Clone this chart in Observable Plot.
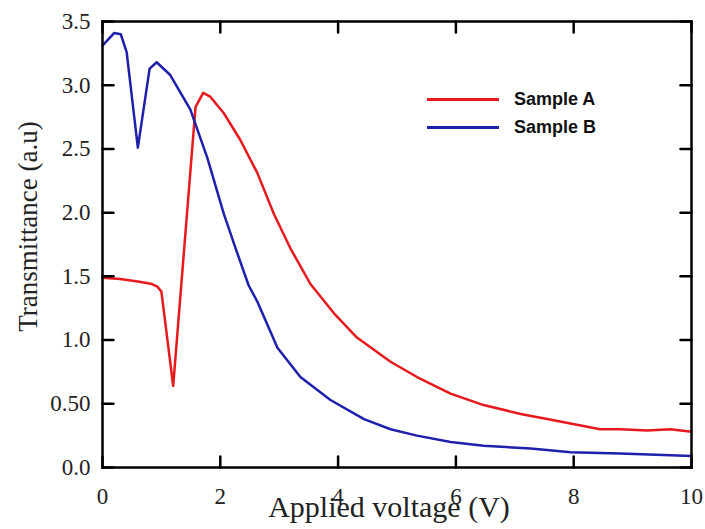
<!DOCTYPE html>
<html>
<head>
<meta charset="utf-8">
<script src="https://cdn.jsdelivr.net/npm/d3@7"></script>
<script src="https://cdn.jsdelivr.net/npm/@observablehq/plot@0.6"></script>
<style>
  html, body { margin: 0; padding: 0; background: #fff; }
  #wrap { position: relative; width: 705px; height: 529px; }
  .leg { position: absolute; left: 427px; font-family: "Liberation Sans", Arial, sans-serif; font-weight: bold; font-size: 18px; color: #111; display: flex; align-items: center; }
  .leg span.sw { display: inline-block; width: 72px; height: 3px; margin-right: 15px; }
</style>
</head>
<body>
<div id="wrap"></div>
<script>
// ---- data ----
const seriesNames = ["Sample A", "Sample B"];
const seriesColors = ["#e8191c", "#1f1fae"];

const sampleAx = [0, 0.3, 0.6, 0.84, 0.93, 1.0, 1.2, 1.58, 1.71, 1.83, 2.06, 2.34, 2.63, 2.91, 3.19, 3.53, 3.93, 4.32, 4.89, 5.34, 5.91, 6.47, 7.10, 7.66, 8.12, 8.45, 8.79, 9.25, 9.64, 10.0];
const sampleAy = [1.49, 1.48, 1.46, 1.44, 1.42, 1.38, 0.64, 2.83, 2.94, 2.91, 2.78, 2.57, 2.31, 1.99, 1.72, 1.44, 1.21, 1.02, 0.83, 0.71, 0.58, 0.49, 0.42, 0.37, 0.33, 0.30, 0.30, 0.29, 0.30, 0.28];

const sampleBx = [0, 0.2, 0.31, 0.41, 0.6, 0.80, 0.92, 1.15, 1.49, 1.78, 2.06, 2.26, 2.48, 2.63, 2.97, 3.36, 3.87, 4.44, 4.89, 5.34, 5.91, 6.47, 7.27, 7.95, 8.79, 10.0];
const sampleBy = [3.31, 3.41, 3.40, 3.26, 2.51, 3.13, 3.18, 3.08, 2.81, 2.43, 1.99, 1.72, 1.43, 1.30, 0.94, 0.71, 0.53, 0.38, 0.30, 0.25, 0.20, 0.17, 0.15, 0.12, 0.11, 0.09];

const xTicks = [0, 2, 4, 6, 8, 10];
const yTicks = [0, 0.5, 1.0, 1.5, 2.0, 2.5, 3.0, 3.5];
const yTickLabels = ["0.0", "0.50", "1.0", "1.5", "2.0", "2.5", "3.0", "3.5"];

const xTitle = "Applied voltage (V)";
const yTitle = "Transmittance (a.u)";

// ---- layout ----
const W = 705, H = 529, mL = 102, mR = 14, mT = 21, mB = 62;
const tickLen = 11;

// ---- build ----
const dataA = sampleAx.map((x, i) => ({x, y: sampleAy[i]}));
const dataB = sampleBx.map((x, i) => ({x, y: sampleBy[i]}));
const yFmt = d => yTickLabels[yTicks.indexOf(d)] ?? String(d);
// a plain line segment as vector shape (rendered as a path)
const tickShape = {draw(context, l) { context.moveTo(0, 0); context.lineTo(0, -l); }};
const tk = {length: tickLen, anchor: "start", shape: tickShape, stroke: "#000", strokeWidth: 2.5};

const chart = Plot.plot({
  width: W, height: H, marginLeft: mL, marginRight: mR, marginTop: mT, marginBottom: mB,
  style: {fontFamily: "'Liberation Serif', 'Times New Roman', serif", fontSize: "23px", color: "#222", background: "#fff"},
  x: {domain: [0, 10], label: null},
  y: {domain: [0, 3.5], label: null},
  marks: [
    Plot.line(dataA, {x: "x", y: "y", stroke: seriesColors[0], strokeWidth: 2.5}),
    Plot.line(dataB, {x: "x", y: "y", stroke: seriesColors[1], strokeWidth: 2.5}),
    // inward ticks on all four sides
    Plot.vector(xTicks, {x: d => d, frameAnchor: "bottom", rotate: 0, ...tk}),
    Plot.vector(xTicks, {x: d => d, frameAnchor: "top", rotate: 180, ...tk}),
    Plot.vector(yTicks, {y: d => d, frameAnchor: "left", rotate: 90, ...tk}),
    Plot.vector(yTicks, {y: d => d, frameAnchor: "right", rotate: -90, ...tk}),
    Plot.frame({stroke: "#000", strokeWidth: 2.5}),
    // tick labels
    Plot.axisX(xTicks, {anchor: "bottom", tickSize: 0, tickPadding: 20, label: null, fontSize: 23}),
    Plot.axisY(yTicks, {anchor: "left", tickSize: 0, tickPadding: 12, tickFormat: yFmt, label: null, fontSize: 23}),
    // axis titles
    Plot.text([xTitle], {frameAnchor: "bottom", text: d => d, dx: -8, dy: 40, textAnchor: "middle", lineAnchor: "middle", fontSize: 30, fill: "#222"}),
    Plot.text([yTitle], {frameAnchor: "left", text: d => d, dx: -74, dy: -18, rotate: -90, textAnchor: "middle", lineAnchor: "middle", fontSize: 27, fill: "#222"})
  ]
});

const wrap = document.getElementById("wrap");
wrap.appendChild(chart);

// legend
const legTops = [89, 117];
seriesNames.forEach((name, i) => {
  const d = document.createElement("div");
  d.className = "leg";
  d.style.top = legTops[i] + "px";
  const sw = document.createElement("span");
  sw.className = "sw";
  sw.style.background = seriesColors[i];
  d.appendChild(sw);
  d.appendChild(document.createTextNode(name));
  wrap.appendChild(d);
});
</script>
</body>
</html>
